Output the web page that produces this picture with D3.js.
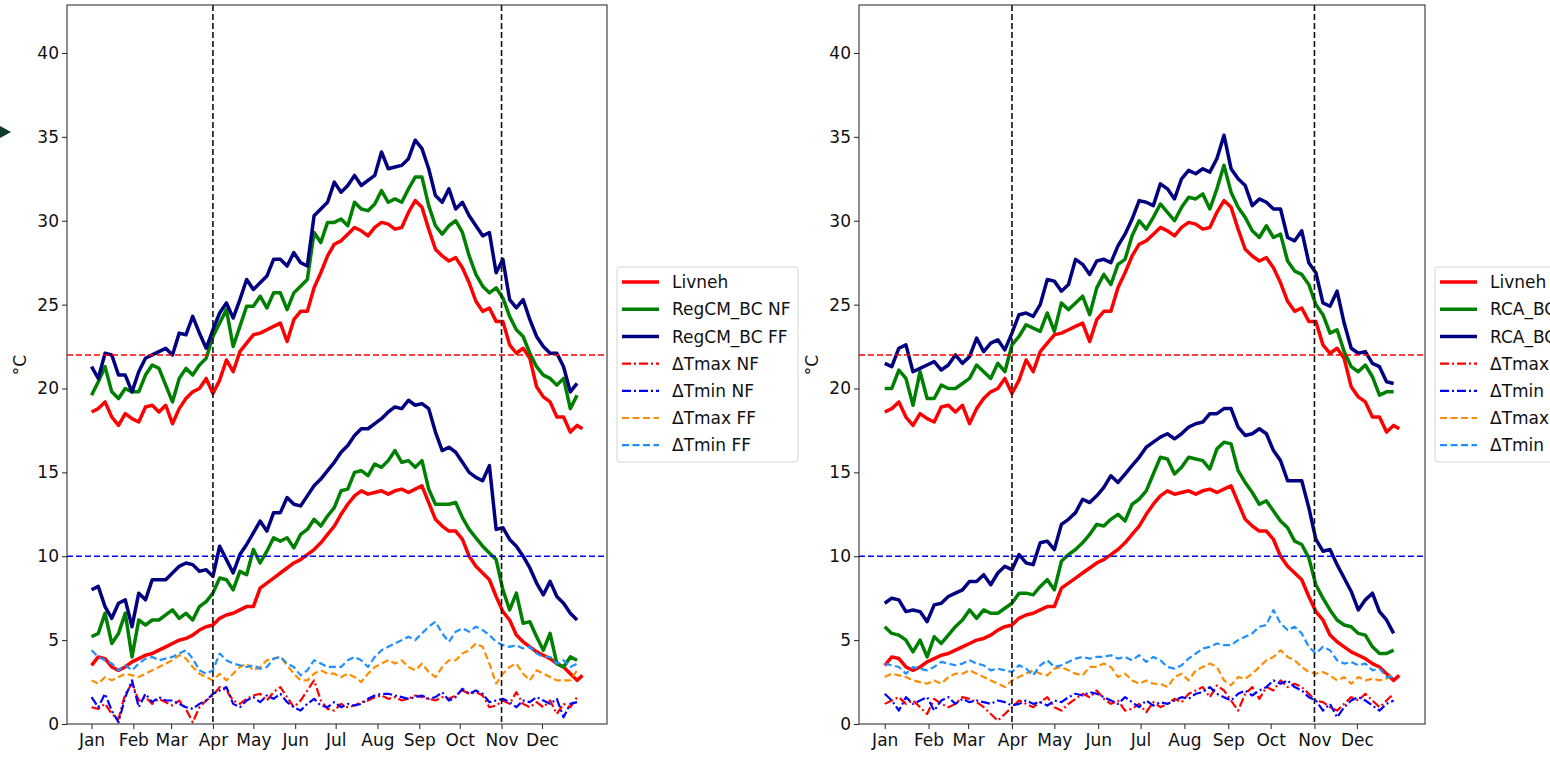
<!DOCTYPE html>
<html>
<head>
<meta charset="utf-8">
<script src="https://cdn.jsdelivr.net/npm/d3@7"></script>
<style>
  body { margin: 0; background: #fff; }
  svg text { font-family: "DejaVu Sans", sans-serif; }
</style>
</head>
<body>
<div id="chart-area"></div>
<script>
// day of year of each sample
const days = [1,6,11,16,21,26,31,36,41,46,51,56,61,66,71,76,81,86,91,96,
  101,106,111,116,121,126,131,136,141,146,151,156,161,166,171,176,181,186,191,196,
  201,206,211,216,221,226,231,236,241,246,251,256,261,266,271,276,281,286,291,296,
  301,306,311,316,321,326,331,336,341,346,351,356,361,365];

const monthTicks = [1,32,60,91,121,152,182,213,244,274,305,335];
const monthLabels = ['Jan','Feb','Mar','Apr','May','Jun','Jul','Aug','Sep','Oct','Nov','Dec'];
const yTicks = [0,5,10,15,20,25,30,35,40];
const markerDays = [91, 305];       // Apr 1, Nov 1
const tmaxRef = 22, tminRef = 10;

// observed (same in both panels)
const livnehTmax = [18.6,18.8,19.2,18.3,17.8,18.5,18.2,18.0,18.9,19.0,
  18.6,19.0,17.9,18.8,19.4,19.8,20.0,20.6,19.7,20.5,
  21.7,21.0,22.2,22.7,23.2,23.3,23.5,23.7,23.9,22.8,
  24.1,24.6,24.6,26.0,26.9,27.9,28.6,28.8,29.2,29.6,
  29.4,29.1,29.6,29.9,29.8,29.5,29.6,30.5,31.2,30.8,
  29.5,28.3,27.9,27.6,27.8,27.2,26.3,25.2,24.6,24.8,
  24.0,24.0,22.6,22.1,22.4,21.8,20.1,19.5,19.2,18.3,
  18.3,17.4,17.8,17.6];
const livnehTmin = [3.5,4.0,3.9,3.4,3.2,3.4,3.7,3.9,4.1,4.2,
  4.4,4.6,4.8,5.0,5.1,5.3,5.6,5.8,5.9,6.3,
  6.5,6.6,6.8,7.0,7.0,8.1,8.4,8.7,9.0,9.3,
  9.6,9.8,10.1,10.4,10.8,11.3,11.8,12.5,13.1,13.6,
  13.9,13.7,13.8,13.9,13.7,13.9,14.0,13.8,14.0,14.2,
  13.2,12.2,11.8,11.5,11.5,11.0,10.0,9.4,9.0,8.6,
  7.6,6.7,6.2,5.3,4.9,4.6,4.3,4.1,3.9,3.6,
  3.4,3.0,2.6,2.9];

// RegCM panel
const regcmNfTmax = [19.6,20.4,21.3,19.8,19.4,20.0,19.8,19.8,20.8,21.4,
  21.2,20.2,19.2,20.6,21.2,20.8,21.4,21.8,23.1,23.9,
  24.7,22.5,23.7,24.9,24.9,25.5,24.8,25.7,25.7,24.7,
  25.7,26.1,26.5,29.3,28.7,29.9,29.9,30.1,29.7,31.1,
  30.7,30.6,31.0,31.8,31.1,31.3,31.1,31.9,32.6,32.6,
  30.9,29.7,29.2,29.7,30.0,29.3,27.9,26.8,26.1,25.7,
  26.0,25.4,24.3,23.5,23.1,22.1,21.3,20.8,20.6,20.2,
  20.6,18.8,19.6];
const regcmNfTmin = [5.2,5.4,6.6,4.8,5.4,6.6,4.0,6.2,5.9,6.2,
  6.2,6.5,6.8,6.3,6.6,6.2,7.0,7.3,7.8,8.7,
  8.6,8.0,9.1,8.9,10.4,9.6,10.3,11.1,10.9,11.1,
  10.5,11.3,11.6,12.2,11.8,12.4,12.9,13.9,14.0,15.0,
  15.1,14.8,15.5,15.3,15.7,16.3,15.6,15.7,15.3,15.7,
  14.0,13.1,13.1,13.1,13.2,12.3,11.6,11.1,10.6,10.2,
  9.8,8.0,6.8,7.8,6.0,6.1,5.2,4.4,5.4,3.6,
  3.4,4.0,3.8];
const regcmFfTmax = [21.3,20.6,22.1,22.0,20.8,20.8,19.8,21.0,21.8,22.0,
  22.2,22.4,22.0,23.3,23.2,24.3,23.3,22.4,23.5,24.5,
  25.1,24.2,25.3,26.5,25.9,26.3,26.7,27.7,27.7,27.3,
  28.1,27.5,27.3,30.3,30.7,31.1,32.3,31.7,32.1,32.7,
  32.1,32.4,32.7,34.1,33.1,33.2,33.3,33.7,34.8,34.3,
  33.1,31.5,31.1,31.9,30.7,31.1,30.3,29.7,29.1,29.3,
  26.9,27.7,25.3,24.8,25.3,24.1,23.1,22.5,22.1,22.1,
  21.3,19.8,20.3];
const regcmFfTmin = [8.0,8.2,7.0,6.3,7.2,7.4,5.8,7.8,7.4,8.6,
  8.6,8.6,9.0,9.4,9.6,9.5,9.1,9.2,8.8,10.6,
  9.8,9.0,10.1,10.7,11.4,12.1,11.5,12.6,12.6,13.5,
  13.1,13.0,13.6,14.2,14.6,15.1,15.6,16.2,16.6,17.2,
  17.6,17.6,17.9,18.2,18.6,18.9,18.8,19.3,19.0,19.1,
  18.8,17.4,16.3,16.5,16.2,15.6,15.0,14.7,14.5,15.4,
  11.6,11.7,11.0,10.6,10.0,9.3,8.4,7.7,8.5,7.6,
  7.2,6.6,6.2];
const regcmDTmaxNf = [1.0,0.9,1.2,0.6,0.3,1.8,2.4,1.4,1.6,1.2,
  1.5,1.3,1.1,1.4,0.9,0.1,1.0,1.4,1.7,2.2,
  2.0,1.4,1.2,1.5,1.7,1.8,1.4,1.9,2.2,1.6,
  1.0,1.4,2.0,2.6,1.4,0.9,0.8,1.2,1.0,1.1,
  1.3,1.4,1.6,1.7,1.5,1.6,1.4,1.5,1.7,1.6,
  1.5,1.4,1.6,1.5,1.7,2.0,1.8,1.9,1.7,1.0,
  1.1,1.4,1.2,1.9,1.2,1.0,1.3,1.0,1.4,0.6,
  1.2,1.0,1.6];
const regcmDTminNf = [1.6,1.0,1.8,0.8,0.1,1.6,2.6,1.0,1.8,1.3,
  1.6,1.4,1.4,1.2,1.0,0.9,1.2,1.4,1.8,2.0,
  2.2,1.2,1.0,1.4,1.6,1.3,1.7,1.5,1.8,1.3,
  1.0,0.8,1.2,1.5,1.1,1.0,1.3,1.0,1.2,1.1,
  1.2,1.5,1.7,1.8,1.8,1.7,1.6,1.5,1.6,1.7,
  1.5,1.6,1.9,1.4,1.6,2.1,1.8,2.0,1.8,1.3,
  1.4,1.5,1.3,1.0,1.4,1.3,1.6,1.4,1.2,1.5,
  0.4,1.2,1.3];
const regcmDTmaxFf = [2.6,2.4,2.8,2.6,2.8,3.0,2.9,2.8,3.0,3.2,
  3.4,3.6,3.8,4.1,3.9,3.4,3.0,2.8,2.6,3.0,
  2.6,3.0,3.4,3.6,3.2,3.4,3.8,3.9,4.0,3.5,
  3.0,2.6,2.6,3.0,3.2,3.0,3.0,2.8,3.0,2.8,
  2.5,3.0,3.4,3.6,3.8,3.6,3.8,3.4,3.2,3.6,
  3.1,2.8,3.4,3.8,3.8,4.2,4.4,4.8,4.6,3.6,
  2.4,3.0,3.4,3.6,3.0,2.6,3.2,3.0,2.8,2.6,
  2.6,2.6,3.2];
const regcmDTminFf = [4.4,4.0,3.8,3.6,3.2,3.5,3.2,3.6,3.9,4.0,
  3.8,3.9,4.0,4.2,4.4,3.9,3.2,3.0,3.2,4.2,
  3.8,3.6,3.5,3.4,3.5,3.3,3.4,3.9,4.0,3.6,
  3.4,2.9,3.2,3.8,3.6,3.4,3.4,3.4,3.8,4.0,
  3.8,3.4,4.0,4.4,4.6,4.8,5.0,5.2,5.0,5.4,
  5.8,6.1,5.4,4.9,5.5,5.7,5.5,5.8,5.6,5.3,
  4.9,4.7,4.6,4.7,4.5,4.6,4.2,4.0,4.0,3.6,
  3.8,3.4,3.6];

// RCA panel
const rcaNfTmax = [20.0,20.0,21.1,20.6,19.0,21.0,19.4,19.4,20.2,20.0,
  20.0,20.3,20.6,21.4,21.0,20.6,21.5,21.0,22.6,23.1,
  23.8,23.6,23.4,24.5,23.4,25.1,24.7,25.1,25.5,24.4,
  26.0,26.8,26.2,27.4,27.7,29.1,30.0,29.5,30.2,31.0,
  30.5,30.0,30.8,31.4,31.3,31.6,30.7,31.9,33.3,31.7,
  30.8,30.2,29.4,29.0,29.7,29.0,29.2,27.6,27.0,26.8,
  26.2,25.0,24.4,23.3,23.5,22.2,21.3,21.0,21.4,20.7,
  19.6,19.8,19.8];
const rcaNfTmin = [5.8,5.4,5.3,5.0,4.3,5.0,4.0,5.2,4.8,5.3,
  5.8,6.2,6.8,6.3,6.8,6.6,6.6,6.9,7.2,7.8,
  7.8,7.7,8.2,8.6,8.0,9.7,10.1,10.4,10.8,11.3,
  11.9,11.8,12.2,12.5,12.1,13.1,13.4,13.9,14.9,15.9,
  15.8,14.9,15.3,15.9,15.8,15.7,15.2,16.4,16.8,16.7,
  15.1,14.4,13.8,13.1,13.3,12.7,12.1,11.7,10.9,10.7,
  9.9,8.3,7.5,6.8,6.2,5.9,5.8,5.4,5.3,4.6,
  4.2,4.2,4.4];
const rcaFfTmax = [21.5,21.3,22.4,22.6,21.0,21.2,21.4,21.6,21.1,21.4,
  22.0,21.5,21.9,23.0,22.2,22.7,22.9,22.3,23.3,24.4,
  24.5,24.3,25.0,26.5,26.4,25.8,26.2,27.7,27.4,26.8,
  27.6,27.7,27.5,28.5,29.2,30.1,31.2,31.1,30.9,32.2,
  31.9,31.3,32.5,33.0,32.8,33.1,32.9,33.7,35.1,33.1,
  32.5,32.1,30.9,31.3,31.1,30.7,30.7,29.0,28.8,29.4,
  27.5,26.9,25.1,24.9,25.8,23.9,22.4,22.1,22.2,21.5,
  21.3,20.4,20.3];
const rcaFfTmin = [7.2,7.5,7.4,6.7,6.8,6.7,6.1,7.1,7.2,7.6,
  7.8,8.0,8.5,8.5,8.9,8.3,9.0,9.4,9.2,10.1,
  9.6,9.5,10.8,10.9,10.4,11.9,12.2,12.6,13.4,13.2,
  13.6,14.1,14.8,14.4,14.9,15.4,15.9,16.5,16.8,17.1,
  17.3,17.0,17.3,17.7,17.9,18.0,18.5,18.5,18.8,18.8,
  17.7,17.2,17.3,17.6,17.3,16.3,15.7,14.5,14.5,14.5,
  12.9,11.0,10.3,10.4,9.5,8.7,7.9,6.8,7.4,7.8,
  6.7,6.2,5.4];
const rcaDTmaxNf = [1.2,1.4,1.6,1.2,1.4,1.0,0.6,1.5,1.2,1.0,
  1.2,1.6,1.5,1.3,1.0,0.6,0.2,0.6,1.0,1.4,
  1.2,1.0,1.3,1.6,1.0,0.8,1.2,1.5,1.8,1.6,
  2.0,1.5,1.2,1.4,0.8,0.9,1.2,0.7,1.3,1.0,
  1.2,1.5,1.3,1.8,2.0,2.2,1.6,2.3,2.0,1.4,
  0.8,1.8,2.2,1.5,2.2,2.0,2.6,2.2,2.4,2.2,
  1.8,1.4,1.3,1.0,0.8,1.2,1.6,1.4,1.8,1.4,
  1.0,1.4,1.8];
const rcaDTminNf = [1.8,1.4,0.8,1.6,1.2,1.4,1.6,0.8,1.4,1.6,
  1.2,1.5,1.3,1.4,1.3,1.2,1.4,1.3,1.1,1.2,
  1.4,1.2,1.3,1.1,1.4,1.3,1.6,1.8,1.7,1.9,
  1.8,1.6,1.4,1.2,1.6,1.3,1.0,1.4,1.1,1.3,
  1.2,1.4,1.6,1.5,1.8,1.9,2.2,1.8,1.6,1.4,
  1.8,2.0,1.7,2.0,2.2,2.6,2.4,2.6,2.2,2.0,
  1.6,1.4,0.8,1.2,0.4,1.0,1.4,1.6,1.4,1.1,
  0.8,1.2,1.4];
const rcaDTmaxFf = [2.8,3.0,2.9,2.8,2.6,2.5,2.4,2.6,2.4,2.8,
  3.0,3.0,3.2,3.0,2.8,2.6,2.4,2.2,2.6,2.8,
  3.0,3.2,3.0,2.9,3.3,3.4,3.2,3.0,2.9,3.4,
  3.4,3.6,3.4,2.8,3.0,2.6,2.4,2.6,2.4,2.4,
  2.2,2.8,3.0,2.6,3.2,3.4,3.6,3.4,2.6,2.3,
  2.8,2.7,3.0,3.4,3.8,4.0,4.4,4.0,3.8,3.4,
  3.1,3.0,3.1,2.9,2.6,2.8,2.4,2.8,2.6,2.7,
  2.6,2.7,3.0];
const rcaDTminFf = [3.6,3.5,3.4,3.0,3.4,3.3,3.2,3.4,3.7,3.6,
  3.5,3.6,3.8,3.6,3.5,3.2,3.3,3.2,3.1,3.5,
  3.3,2.9,3.5,3.8,3.4,3.5,3.7,3.9,4.0,3.9,
  4.0,4.0,4.1,3.9,4.0,3.8,4.1,3.7,4.0,3.8,
  3.4,3.3,3.5,3.9,4.2,4.5,4.6,4.8,4.7,4.7,
  5.0,5.2,5.4,5.8,5.9,6.8,6.0,5.6,5.8,5.4,
  4.6,4.2,4.6,4.4,3.8,3.6,3.7,3.5,3.6,3.2,
  3.3,2.8,2.8];

const svg = d3.select('#chart-area')
    .append('svg')
    .attr('width', 1550)
    .attr('height', 757);

const plotTop = 5, plotBottom = 724;

// bit of the neighbouring figure that shows at the left edge
svg.append('polygon')
    .attr('points', '0,126 11,132 0,138')
    .attr('fill', '#0d3b30');

const styles = {
    obs:   {color: 'red',        width: 3.5, dash: null},
    nf:    {color: 'green',      width: 3.5, dash: null},
    ff:    {color: 'navy',       width: 3.5, dash: null},
    dxNf:  {color: 'red',        width: 2.2, dash: '9,3,2,3'},
    dnNf:  {color: 'blue',       width: 2.2, dash: '9,3,2,3'},
    dxFf:  {color: 'darkorange', width: 2.2, dash: '7,3.5'},
    dnFf:  {color: 'dodgerblue', width: 2.2, dash: '7,3.5'}
};

function drawPanel(id, x0, x1, model, names) {
    const x = d3.scaleLinear().domain([-17.2, 383.2]).range([x0, x1]);
    const y = d3.scaleLinear().domain([0, 42.86]).range([plotBottom, plotTop]);

    const g = svg.append('g');

    g.append('clipPath').attr('id', 'clip-' + id)
        .append('rect')
        .attr('x', x0).attr('y', plotTop)
        .attr('width', x1 - x0).attr('height', plotBottom - plotTop);

    const plot = g.append('g').attr('clip-path', 'url(#clip-' + id + ')');

    const line = d3.line()
        .x((d, i) => x(days[i]))
        .y(d => y(d));

    const series = [
        [livnehTmax, styles.obs], [livnehTmin, styles.obs],
        [model.nfTmax, styles.nf], [model.nfTmin, styles.nf],
        [model.ffTmax, styles.ff], [model.ffTmin, styles.ff],
        [model.dTmaxNf, styles.dxNf], [model.dTminNf, styles.dnNf],
        [model.dTmaxFf, styles.dxFf], [model.dTminFf, styles.dnFf]
    ];

    series.forEach(([vals, s]) => {
        plot.append('path')
            .datum(vals)
            .attr('d', line)
            .attr('fill', 'none')
            .attr('stroke', s.color)
            .attr('stroke-width', s.width)
            .attr('stroke-linejoin', 'round')
            .attr('stroke-dasharray', s.dash);
    });

    // reference lines
    plot.append('line')
        .attr('x1', x0).attr('x2', x1)
        .attr('y1', y(tmaxRef)).attr('y2', y(tmaxRef))
        .attr('stroke', 'red').attr('stroke-width', 1.6)
        .attr('stroke-dasharray', '6,3');
    plot.append('line')
        .attr('x1', x0).attr('x2', x1)
        .attr('y1', y(tminRef)).attr('y2', y(tminRef))
        .attr('stroke', 'blue').attr('stroke-width', 1.6)
        .attr('stroke-dasharray', '6,3');
    markerDays.forEach(d => {
        plot.append('line')
            .attr('x1', x(d)).attr('x2', x(d))
            .attr('y1', plotTop).attr('y2', plotBottom)
            .attr('stroke', '#111').attr('stroke-width', 1.6)
            .attr('stroke-dasharray', '6,3');
    });

    // axes
    const yAxis = g.append('g')
        .attr('transform', 'translate(' + x0 + ',0)')
        .call(d3.axisLeft(y).tickValues(yTicks).tickSize(5).tickPadding(3));
    const xAxis = g.append('g')
        .attr('transform', 'translate(0,' + plotBottom + ')')
        .call(d3.axisBottom(x).tickValues(monthTicks)
            .tickFormat((d, i) => monthLabels[i]).tickSize(5).tickPadding(5));
    [yAxis, xAxis].forEach(a => {
        a.select('.domain').remove();
        a.selectAll('line').attr('stroke', '#222');
        a.selectAll('text').attr('fill', '#111')
            .style('font-size', '17px')
            .style('font-family', '"DejaVu Sans", sans-serif');
    });

    g.append('rect')
        .attr('x', x0).attr('y', plotTop)
        .attr('width', x1 - x0).attr('height', plotBottom - plotTop)
        .attr('fill', 'none')
        .attr('stroke', '#333')
        .attr('stroke-width', 1.1);

    g.append('text')
        .text('°C')
        .attr('transform', 'translate(' + (x0 - 41) + ',' + 365 + ') rotate(-90)')
        .attr('text-anchor', 'middle')
        .attr('font-size', '17px')
        .attr('fill', '#111');

    // legend
    const lx = x1 + 10, ly = 267;
    const leg = svg.append('g').attr('transform', 'translate(' + lx + ',' + ly + ')');
    leg.append('rect')
        .attr('x', 0).attr('y', 0)
        .attr('width', 181).attr('height', 195)
        .attr('rx', 3)
        .attr('fill', 'white')
        .attr('stroke', '#d4d4d4');
    const legStyles = [styles.obs, styles.nf, styles.ff, styles.dxNf, styles.dnNf, styles.dxFf, styles.dnFf];
    names.forEach((name, i) => {
        const yy = 15 + i * 27.2;
        const s = legStyles[i];
        leg.append('line')
            .attr('x1', 5).attr('x2', 42)
            .attr('y1', yy).attr('y2', yy)
            .attr('stroke', s.color)
            .attr('stroke-width', s.width)
            .attr('stroke-dasharray', s.dash);
        leg.append('text')
            .text(name)
            .attr('x', 55).attr('y', yy)
            .attr('dy', '0.36em')
            .attr('font-size', '17px')
            .attr('fill', '#111');
    });
}

drawPanel('regcm', 67, 607, {
    nfTmax: regcmNfTmax, nfTmin: regcmNfTmin,
    ffTmax: regcmFfTmax, ffTmin: regcmFfTmin,
    dTmaxNf: regcmDTmaxNf, dTminNf: regcmDTminNf,
    dTmaxFf: regcmDTmaxFf, dTminFf: regcmDTminFf
}, ['Livneh', 'RegCM_BC NF', 'RegCM_BC FF', 'ΔTmax NF', 'ΔTmin NF', 'ΔTmax FF', 'ΔTmin FF']);

drawPanel('rca', 859, 1425, {
    nfTmax: rcaNfTmax, nfTmin: rcaNfTmin,
    ffTmax: rcaFfTmax, ffTmin: rcaFfTmin,
    dTmaxNf: rcaDTmaxNf, dTminNf: rcaDTminNf,
    dTmaxFf: rcaDTmaxFf, dTminFf: rcaDTminFf
}, ['Livneh', 'RCA_BC NF', 'RCA_BC FF', 'ΔTmax NF', 'ΔTmin NF', 'ΔTmax FF', 'ΔTmin FF']);
</script>
</body>
</html>
